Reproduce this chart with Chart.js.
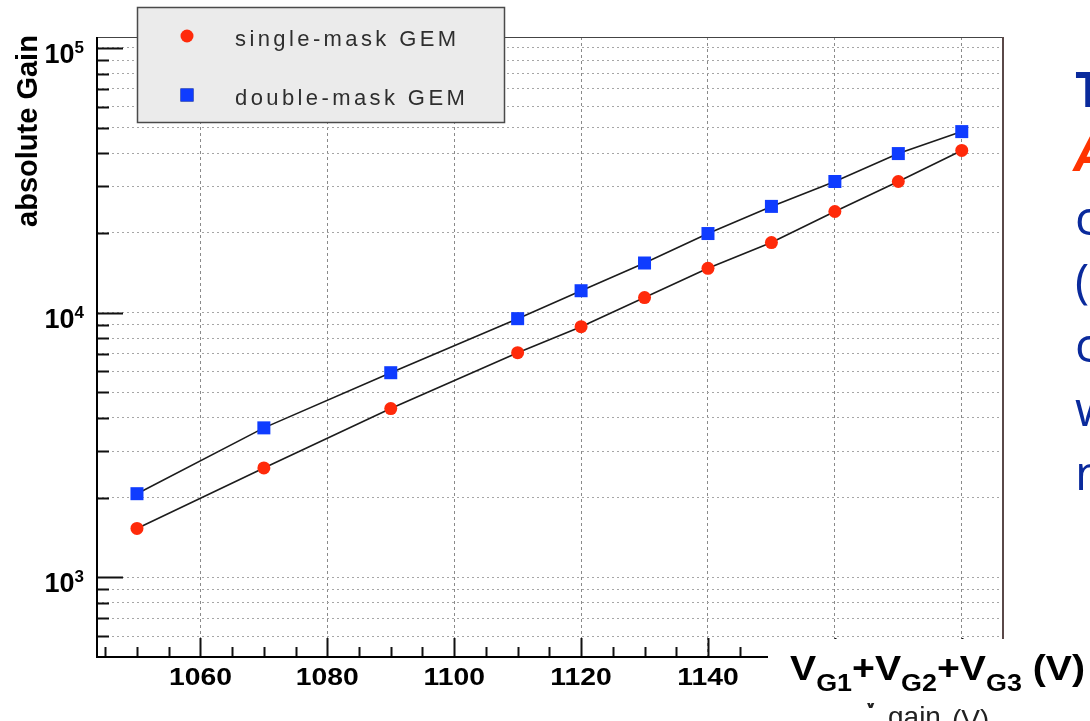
<!DOCTYPE html>
<html>
<head>
<meta charset="utf-8">
<title>absolute Gain vs VG1+VG2+VG3</title>
<script src="https://cdn.jsdelivr.net/npm/chart.js@4.4.1/dist/chart.umd.min.js"></script>
<style>
  html, body { margin: 0; padding: 0; background: #fff; }
  #wrap { width: 1090px; height: 721px; }
</style>
</head>
<body>
<div id="wrap"><canvas id="gainChart" width="1090" height="721"></canvas></div>
<script>
// sum of the three GEM voltages (V)
const voltages = [1050, 1070, 1090, 1110, 1120, 1130, 1140, 1150, 1160, 1170, 1180];
const singleMaskGain = [1530, 2590, 4340, 7060, 8850, 11400, 14700, 18400, 24100, 31300, 41000];
const doubleMaskGain = [2070, 3670, 5930, 9490, 12100, 15400, 19900, 25200, 31300, 39900, 48300];

const seriesNames = ['single-mask GEM', 'double-mask GEM'];
const xTickLabels = [1060, 1080, 1100, 1120, 1140, 1160, 1180];
const yTickExponents = [3, 4, 5];
const sideLetters = ['T', 'A', 'c', '(', 'c', 'w', 'n'];

const red = '#ff2a0a';
const blue = '#0f3cff';

function pts(ys) {
  return voltages.map((v, i) => ({x: v, y: ys[i]}));
}

// ROOT-like frame: inner ticks, labels, legend box and the slide overlay
const rootFrame = {
  id: 'rootFrame',
  beforeDatasetsDraw(chart) {
    const {ctx, chartArea: a, scales: {x, y}} = chart;
    ctx.save();
    ctx.strokeStyle = '#111';
    ctx.lineWidth = 2;
    ctx.beginPath();
    for (let v = 1045; x.getPixelForValue(v) <= a.right; v += 5) {
      const px = Math.round(x.getPixelForValue(v)) + 0.5;
      const len = v % 20 === 0 ? 19 : 10;
      ctx.moveTo(px, a.bottom);
      ctx.lineTo(px, a.bottom - len);
    }
    y.ticks.forEach(t => {
      const py = Math.round(y.getPixelForValue(t.value)) + 0.5;
      const major = Math.abs(Math.log10(t.value) % 1) < 1e-6;
      ctx.moveTo(a.left, py);
      ctx.lineTo(a.left + (major ? 26 : 12), py);
    });
    ctx.stroke();

    // frame
    ctx.lineWidth = 1;
    ctx.strokeStyle = '#444';
    ctx.beginPath();
    ctx.moveTo(a.left, a.top + 0.5);
    ctx.lineTo(a.right, a.top + 0.5);
    ctx.stroke();
    ctx.lineWidth = 2;
    ctx.strokeStyle = '#5a4848';
    ctx.beginPath();
    ctx.moveTo(a.right, a.top);
    ctx.lineTo(a.right, a.bottom);
    ctx.stroke();
    ctx.strokeStyle = '#000';
    ctx.beginPath();
    ctx.moveTo(a.left, a.top);
    ctx.lineTo(a.left, a.bottom);
    ctx.lineTo(a.right, a.bottom);
    ctx.stroke();
    ctx.restore();
  },
  afterDraw(chart) {
    const {ctx, chartArea: a, scales: {x, y}} = chart;
    ctx.save();
    ctx.fillStyle = '#000';

    // x tick labels
    ctx.font = 'bold 24px "Liberation Sans", Arial, sans-serif';
    ctx.textAlign = 'center';
    ctx.textBaseline = 'alphabetic';
    xTickLabels.forEach(v => {
      ctx.save();
      ctx.translate(x.getPixelForValue(v), a.bottom + 28);
      ctx.scale(1.18, 1);
      ctx.fillText(String(v), 0, 0);
      ctx.restore();
    });

    // y tick labels 10^n
    ctx.textAlign = 'left';
    yTickExponents.forEach(e => {
      const py = y.getPixelForValue(Math.pow(10, e));
      ctx.font = 'bold 17px "Liberation Sans", Arial, sans-serif';
      const ew = ctx.measureText(String(e)).width;
      ctx.fillText(String(e), 84 - ew, py + 5);
      ctx.font = 'bold 27px "Liberation Sans", Arial, sans-serif';
      const bw = ctx.measureText('10').width;
      ctx.fillText('10', 84 - ew - bw, py + 15);
    });

    // y axis title
    ctx.save();
    ctx.translate(37, 131);
    ctx.rotate(-Math.PI / 2);
    ctx.textAlign = 'center';
    ctx.font = 'bold 29px "Liberation Sans", Arial, sans-serif';
    ctx.fillText('absolute Gain', 0, 0);
    ctx.restore();

    // legend
    ctx.fillStyle = '#ebebeb';
    ctx.fillRect(137, 7, 368, 116);
    ctx.strokeStyle = '#4a4a4a';
    ctx.lineWidth = 1.5;
    ctx.strokeRect(137.5, 7.5, 367, 115);
    const ds = chart.data.datasets;
    const rows = [36, 95];
    ds.forEach((d, i) => {
      Chart.helpers.drawPoint(ctx, {
        pointStyle: d.pointStyle, radius: d.pointRadius, borderWidth: 0, rotation: 0
      }, 187, rows[i]);
      ctx.fillStyle = d.pointBackgroundColor;
      ctx.fill();
      ctx.fillStyle = '#2e2e2e';
      ctx.font = '22px "Liberation Sans", Arial, sans-serif';
      ctx.letterSpacing = '3.4px';
      ctx.textAlign = 'left';
      ctx.fillText(d.label, 235, rows[i] + 10);
      ctx.letterSpacing = '0px';
    });

    // hidden original axis title, only its top peeks out
    ctx.fillStyle = '#222';
    ctx.font = '32px "Liberation Sans", Arial, sans-serif';
    ctx.fillText('V', 860, 708);
    ctx.font = '28px "Liberation Sans", Arial, sans-serif';
    ctx.fillText('gain', 888, 726);
    ctx.fillText('(V)', 952, 729);

    // pasted label box
    ctx.fillStyle = '#fff';
    ctx.fillRect(768, 639, 322, 64);
    const segs = [['V', 0], ['G1', 1], ['+', 0], ['V', 0], ['G2', 1], ['+', 0], ['V', 0], ['G3', 1], [' (V)', 0]];
    const fonts = ['bold 35px "Liberation Sans", Arial, sans-serif', 'bold 24px "Liberation Sans", Arial, sans-serif'];
    let total = 0;
    segs.forEach(s => { ctx.font = fonts[s[1]]; total += ctx.measureText(s[0]).width; });
    const k = 295 / total;
    ctx.save();
    ctx.translate(790, 0);
    ctx.scale(k, 1);
    ctx.fillStyle = '#000';
    let cx = 0;
    segs.forEach(s => {
      ctx.font = fonts[s[1]];
      ctx.fillText(s[0], cx, s[1] ? 691 : 680);
      cx += ctx.measureText(s[0]).width;
    });
    ctx.restore();

    // slide text cut by the right edge
    sideLetters.forEach((ch, i) => {
      if (i === 1) {
        ctx.fillStyle = '#ff3300';
        ctx.font = 'italic bold 48px "Open Sans", "Noto Sans", sans-serif';
      } else {
        ctx.fillStyle = '#0a2a9c';
        ctx.font = (i === 0 ? 'bold ' : '') + '48px "Open Sans", "Noto Sans", sans-serif';
      }
      ctx.fillText(ch, 1075, 107 + i * 63.8);
    });
    ctx.restore();
  }
};

const ctx = document.getElementById('gainChart').getContext('2d');
const gainChart = new Chart(ctx, {
  type: 'line',
  data: {
    datasets: [{
      label: seriesNames[0],
      data: pts(singleMaskGain),
      borderColor: '#1c1c1c',
      borderWidth: 1.6,
      pointStyle: 'circle',
      pointRadius: 6.5,
      pointBackgroundColor: red,
      pointBorderColor: red,
      pointBorderWidth: 0,
      tension: 0
    }, {
      label: seriesNames[1],
      data: pts(doubleMaskGain),
      borderColor: '#1c1c1c',
      borderWidth: 1.6,
      pointStyle: 'rect',
      pointRadius: 9.2,
      pointBackgroundColor: blue,
      pointBorderColor: blue,
      pointBorderWidth: 0,
      tension: 0
    }]
  },
  options: {
    responsive: false,
    animation: false,
    layout: { padding: { left: 97, top: 37, right: 87, bottom: 64 } },
    plugins: { legend: { display: false }, tooltip: { enabled: false } },
    scales: {
      x: {
        type: 'linear',
        min: 1043.7,
        max: 1186.5,
        afterBuildTicks: s => { s.ticks = xTickLabels.map(v => ({value: v})); },
        ticks: { display: false },
        grid: { color: '#8a8a8a', lineWidth: 1, drawTicks: false },
        border: { display: false, dash: [3, 3] }
      },
      y: {
        type: 'logarithmic',
        min: 500,
        max: 110000,
        afterBuildTicks: s => {
          const t = [];
          for (let e = 2; e <= 5; e++) {
            for (let d = 1; d <= 9; d++) {
              const v = d * Math.pow(10, e);
              if (v >= 600 && v <= 100000) t.push({value: v});
            }
          }
          s.ticks = t;
        },
        ticks: { display: false },
        grid: { color: '#a6a6a6', lineWidth: 1, drawTicks: false },
        border: { display: false, dash: [2, 3] }
      }
    }
  },
  plugins: [rootFrame]
});
</script>
</body>
</html>
